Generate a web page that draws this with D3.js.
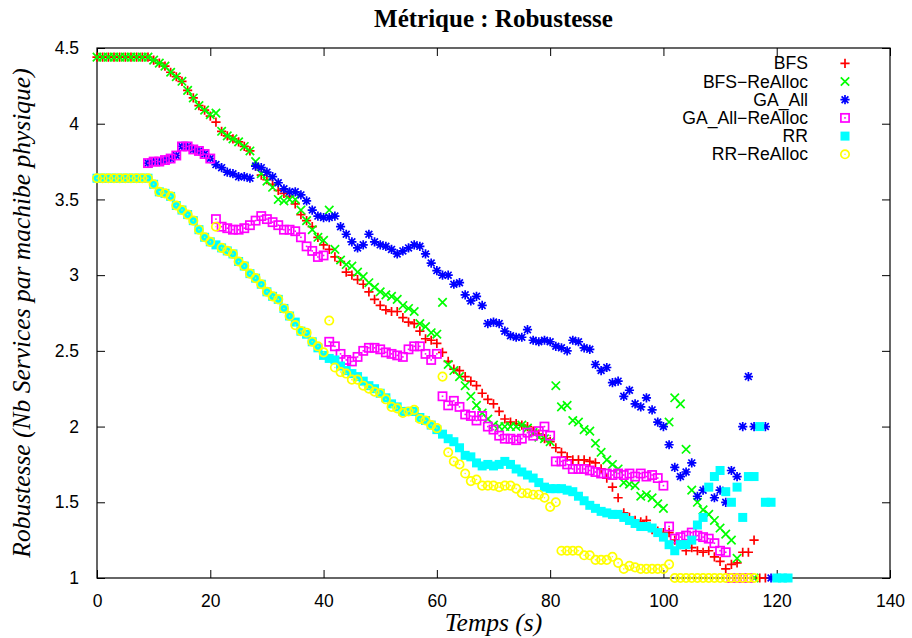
<!DOCTYPE html>
<html><head><meta charset="utf-8">
<script src="https://cdn.jsdelivr.net/npm/d3@7"></script>
<style>
html,body{margin:0;padding:0;background:#fff;}
svg{display:block;}
</style></head>
<body>
<svg id="chart" width="912" height="638"></svg>
<script>
const seriesNames = ["BFS","BFS\u2212ReAlloc","GA_All","GA_All\u2212ReAlloc","RR","RR\u2212ReAlloc"];
const xTicks = [0,20,40,60,80,100,120,140];
const yTicks = [1,1.5,2,2.5,3,3.5,4,4.5];

const bfs = [
[0,4.44],[1,4.44],[2,4.44],[3,4.44],[4,4.44],[5,4.44],[6,4.44],[7,4.44],[8,4.44],[9,4.44],
[10,4.42],[11,4.40],[12,4.38],[13,4.34],[14,4.31],[15,4.28],[16,4.22],[17,4.17],[18,4.12],[19,4.09],
[20,4.05],[21,4.01],[22,3.95],[23,3.92],[24,3.90],[25,3.88],[26,3.85],[27,3.82],[28,3.72],[29,3.66],
[30,3.63],[31,3.60],[32,3.56],[33,3.54],[34,3.52],[35,3.47],[36,3.40],[37,3.36],[38,3.32],[39,3.25],
[40,3.20],[41,3.17],[42,3.12],[43,3.09],[44,3.02],[45,3.00],[46,2.97],[47,2.94],[48,2.89],[49,2.84],
[50,2.80],[51,2.77],[52,2.76],[53,2.76],[54,2.72],[55,2.69],[56,2.68],[57,2.63],[58,2.58],[59,2.57],
[60,2.55],[61,2.49],[62,2.43],[63,2.38],[64,2.37],[65,2.33],[66,2.30],[67,2.27],[68,2.22],[69,2.18],
[70,2.15],[71,2.10],[72,2.05],[73,2.03],[74,2.02],[75,2.01],[76,2.00],[77,1.97],[78,1.95],[79,1.92],
[80,1.90],[81,1.86],[82,1.83],[83,1.80],[84,1.78],[85,1.78],[86,1.78],[87,1.77],[88,1.76],[89,1.72],
[90,1.66],[91,1.60],[92,1.53],[93,1.43],[94,1.40],[95,1.38],[96,1.37],[97,1.38],[98,1.32],[99,1.31],
[100,1.30],[101,1.30],[102,1.25],[103,1.22],[104,1.18],[105,1.20],[106,1.18],[107,1.17],[108,1.18],[109,1.14],
[110,1.11],[111,1.06],[112,1.09],[113,1.10],[114,1.17],[115,1.17],[116,1.25],[117,1.00],[118,1.00]
];

const bfsReAlloc = [
[0,4.44],[1,4.44],[2,4.44],[3,4.44],[4,4.44],[5,4.44],[6,4.44],[7,4.44],[8,4.44],[9,4.44],
[10,4.42],[11,4.40],[12,4.38],[13,4.34],[14,4.31],[15,4.28],[16,4.22],[17,4.17],[18,4.12],[19,4.09],
[20,4.06],[21,4.07],[22,3.95],[23,3.92],[24,3.90],[25,3.88],[26,3.85],[27,3.82],[28,3.75],[29,3.67],
[30,3.62],[31,3.58],[32,3.50],[33,3.49],[34,3.50],[35,3.50],[36,3.43],[37,3.36],[38,3.30],[39,3.25],
[40,3.23],[41,3.43],[42,3.17],[43,3.10],[44,3.07],[45,3.06],[46,3.02],[47,2.99],[48,2.95],[49,2.92],
[50,2.89],[51,2.87],[52,2.86],[53,2.84],[54,2.80],[55,2.78],[56,2.76],[57,2.68],[58,2.66],[59,2.62],
[60,2.61],[61,2.82],[62,2.41],[63,2.37],[64,2.33],[65,2.27],[66,2.20],[67,2.14],[68,2.09],[69,2.05],
[70,2.01],[71,2.00],[72,2.00],[73,2.00],[74,2.00],[75,2.01],[76,1.99],[77,1.96],[78,1.93],[79,1.92],
[80,1.90],[81,2.27],[82,2.13],[83,2.14],[84,2.04],[85,2.03],[86,1.98],[87,1.97],[88,1.89],[89,1.83],
[90,1.78],[91,1.75],[92,1.72],[93,1.63],[94,1.62],[95,1.61],[96,1.54],[97,1.55],[98,1.53],[99,1.49],
[100,1.46],[101,2.03],[102,2.19],[103,2.15],[104,1.85],[105,1.58],[106,1.50],[107,1.45],[108,1.42],[109,1.38],
[110,1.33],[111,1.29],[112,1.25],[113,1.13],[116,1.00]
];

const gaAll = [
[9,3.74],[10,3.75],[11,3.75],[12,3.76],[13,3.77],[14,3.79],[15,3.85],[16,3.85],[17,3.83],[18,3.82],[19,3.80],
[20,3.77],[21,3.73],[22,3.71],[23,3.68],[24,3.67],[25,3.65],[26,3.65],[27,3.64],[28,3.72],[29,3.71],
[30,3.68],[31,3.65],[32,3.61],[33,3.57],[34,3.55],[35,3.55],[36,3.53],[37,3.49],[38,3.43],[39,3.39],
[40,3.38],[41,3.38],[42,3.39],[43,3.32],[44,3.27],[45,3.22],[46,3.18],[47,3.20],[48,3.27],[49,3.22],
[50,3.20],[51,3.19],[52,3.17],[53,3.14],[54,3.16],[55,3.18],[56,3.20],[57,3.19],[58,3.14],[59,3.08],
[60,3.03],[61,3.00],[62,3.00],[63,2.94],[64,2.95],[65,2.87],[66,2.83],[67,2.86],[68,2.80],[69,2.68],
[70,2.69],[71,2.68],[72,2.63],[73,2.60],[74,2.59],[75,2.59],[76,2.64],[77,2.57],[78,2.56],[79,2.57],
[80,2.56],[81,2.53],[82,2.52],[83,2.50],[84,2.57],[85,2.56],[86,2.52],[87,2.51],[88,2.41],[89,2.37],
[90,2.39],[91,2.29],[92,2.30],[93,2.20],[94,2.24],[95,2.15],[96,2.13],[97,2.19],[98,2.11],[99,2.03],
[100,2.00],[101,1.88],[102,1.73],[103,1.67],[104,1.70],[105,1.76],[106,1.54],[107,1.58],[109,1.53],[110,1.58],
[111,1.50],[112,1.71],[113,1.67],[114,2.00],[115,2.33],[116,2.00],[118,2.00],[119,1.00]
];

const gaAllReAlloc = [
[9,3.74],[10,3.75],[11,3.75],[12,3.76],[13,3.77],[14,3.79],[15,3.85],[16,3.85],[17,3.83],[18,3.82],[19,3.80],
[20,3.77],[21,3.37],[22,3.32],[23,3.31],[24,3.30],[25,3.30],[26,3.31],[27,3.33],[28,3.36],[29,3.39],
[30,3.37],[31,3.35],[32,3.33],[33,3.30],[34,3.30],[35,3.29],[36,3.25],[37,3.19],[38,3.16],[39,3.12],
[40,3.13],[41,2.56],[42,2.53],[43,2.48],[44,2.44],[45,2.43],[46,2.46],[47,2.50],[48,2.52],[49,2.52],
[50,2.51],[51,2.49],[52,2.48],[53,2.47],[54,2.46],[55,2.51],[56,2.53],[57,2.53],[58,2.48],[59,2.44],
[60,2.48],[61,2.20],[62,2.14],[63,2.17],[64,2.13],[65,2.08],[66,2.07],[67,2.04],[68,2.07],[69,2.00],
[70,1.98],[71,1.94],[72,1.92],[73,1.92],[74,1.91],[75,1.92],[76,1.96],[77,1.94],[78,1.97],[79,2.00],
[80,1.94],[81,1.77],[82,1.77],[83,1.75],[84,1.72],[85,1.72],[86,1.72],[87,1.71],[88,1.70],[89,1.69],
[90,1.69],[91,1.68],[92,1.69],[93,1.68],[94,1.69],[95,1.67],[96,1.69],[97,1.67],[98,1.68],[99,1.66],
[100,1.61],[101,1.34],[102,1.26],[103,1.27],[104,1.28],[105,1.30],[106,1.28],[107,1.27],[108,1.26],[109,1.23],
[110,1.18],[111,1.17],[112,1.00],[113,1.00],[114,1.00],[115,1.00]
];

const rr = [
[0,3.64],[1,3.64],[2,3.64],[3,3.64],[4,3.64],[5,3.64],[6,3.64],[7,3.64],[8,3.64],[9,3.64],
[10,3.60],[11,3.55],[12,3.54],[13,3.52],[14,3.46],[15,3.43],[16,3.40],[17,3.36],[18,3.30],[19,3.25],
[20,3.22],[21,3.20],[22,3.18],[23,3.16],[24,3.14],[25,3.09],[26,3.06],[27,3.01],[28,2.98],[29,2.94],
[30,2.89],[31,2.86],[32,2.84],[33,2.78],[34,2.73],[35,2.69],[36,2.63],[37,2.61],[38,2.56],[39,2.52],
[40,2.47],[41,2.45],[42,2.44],[43,2.40],[44,2.37],[45,2.35],[46,2.33],[47,2.30],[48,2.27],[49,2.25],
[50,2.22],[51,2.19],[52,2.15],[53,2.13],[54,2.10],[55,2.10],[56,2.10],[57,2.06],[58,2.04],[59,2.01],
[60,1.98],[61,1.95],[62,1.92],[63,1.90],[64,1.86],[65,1.81],[66,1.80],[67,1.76],[68,1.74],[69,1.75],
[70,1.74],[71,1.75],[72,1.77],[73,1.75],[74,1.72],[75,1.70],[76,1.68],[77,1.66],[78,1.63],[79,1.60],
[80,1.59],[81,1.59],[82,1.59],[83,1.58],[84,1.57],[85,1.54],[86,1.51],[87,1.48],[88,1.46],[89,1.44],
[90,1.43],[91,1.42],[92,1.42],[93,1.40],[94,1.38],[95,1.36],[96,1.34],[97,1.34],[98,1.33],[99,1.30],
[100,1.27],[101,1.22],[102,1.18],[103,1.22],[104,1.22],[105,1.25],[106,1.35],[107,1.40],[108,1.60],[109,1.67],
[110,1.71],[111,1.57],[112,1.50],[113,1.60],[114,1.40],[115,1.67],[116,1.67],[117,2.00],[118,1.50],[119,1.50],
[120,1.00],[121,1.00],[122,1.00]
];

const rrReAlloc = [
[0,3.64],[1,3.64],[2,3.64],[3,3.64],[4,3.64],[5,3.64],[6,3.64],[7,3.64],[8,3.64],[9,3.64],
[10,3.60],[11,3.55],[12,3.54],[13,3.52],[14,3.46],[15,3.43],[16,3.40],[17,3.36],[18,3.30],[19,3.25],
[20,3.22],[21,3.32],[22,3.18],[23,3.16],[24,3.14],[25,3.09],[26,3.06],[27,3.01],[28,2.98],[29,2.94],
[30,2.89],[31,2.86],[32,2.84],[33,2.78],[34,2.73],[35,2.67],[36,2.63],[37,2.62],[38,2.56],[39,2.53],
[40,2.49],[41,2.70],[42,2.39],[43,2.36],[44,2.35],[45,2.31],[46,2.31],[47,2.27],[48,2.25],[49,2.23],
[50,2.22],[51,2.18],[52,2.13],[53,2.12],[54,2.09],[55,2.10],[56,2.11],[57,2.05],[58,2.04],[59,2.01],
[60,1.99],[61,2.33],[62,1.83],[63,1.77],[64,1.75],[65,1.69],[66,1.64],[67,1.65],[68,1.61],[69,1.61],
[70,1.61],[71,1.60],[72,1.61],[73,1.61],[74,1.59],[75,1.56],[76,1.56],[77,1.55],[78,1.55],[79,1.53],
[80,1.47],[81,1.50],[82,1.18],[83,1.18],[84,1.18],[85,1.18],[86,1.15],[87,1.15],[88,1.12],[89,1.12],
[90,1.12],[91,1.14],[92,1.10],[93,1.06],[94,1.08],[95,1.07],[96,1.06],[97,1.06],[98,1.06],[99,1.06],
[100,1.06],[101,1.09],[102,1.00],[103,1.00],[104,1.00],[105,1.00],[106,1.00],[107,1.00],[108,1.00],[109,1.00],
[110,1.00],[111,1.00],[112,1.00],[113,1.00],[114,1.00],[115,1.00],[116,1.00]
];

const seriesData = [bfs, bfsReAlloc, gaAll, gaAllReAlloc, rr, rrReAlloc];
const seriesColors = ["#ff0000","#00ff00","#0000ff","#ff00ff","#00ffff","#ffff00"];
const seriesShapes = ["plus","cross","star","boxdot","boxfill","circledot"];

const svg = d3.select("#chart");
const L = 97, R = 890, T = 48, B = 578;
const x = d3.scaleLinear().domain([0,140]).range([L,R]);
const y = d3.scaleLinear().domain([1,4.5]).range([B,T]);

const sans = "'Liberation Sans', Arial, Helvetica, sans-serif";
const serif = "'Liberation Serif', 'Times New Roman', Times, serif";
const serifSize = "25.5px";

// axes with inward ticks (mirrored)
const tickLen = 8;
const axB = d3.axisBottom(x).tickValues(xTicks).tickSizeInner(-tickLen).tickSizeOuter(0).tickPadding(tickLen+9).tickFormat(d3.format("d"));
const axT = d3.axisTop(x).tickValues(xTicks).tickSizeInner(-tickLen).tickSizeOuter(0).tickFormat("");
const axL = d3.axisLeft(y).tickValues(yTicks).tickSizeInner(-tickLen).tickSizeOuter(0).tickPadding(tickLen+10).tickFormat(d => Number.isInteger(d)?d3.format("d")(d):d3.format(".1f")(d));
const axR = d3.axisRight(y).tickValues(yTicks).tickSizeInner(-tickLen).tickSizeOuter(0).tickFormat("");

function styleAxis(g){
  g.select(".domain").remove();
  g.selectAll(".tick line").attr("stroke","#000").attr("stroke-width",1);
  g.selectAll(".tick text").attr("fill","#000").style("font-family",sans).style("font-size","17.5px");
}
svg.append("g").attr("transform",`translate(0,${B})`).call(axB).call(styleAxis);
svg.append("g").attr("transform",`translate(0,${T})`).call(axT).call(styleAxis);
svg.append("g").attr("transform",`translate(${L},0)`).call(axL).call(styleAxis);
svg.append("g").attr("transform",`translate(${R},0)`).call(axR).call(styleAxis);

svg.append("rect").attr("x",L).attr("y",T).attr("width",R-L).attr("height",B-T)
  .attr("fill","none").attr("stroke","#000").attr("stroke-width",1.2);

// marker drawing
function drawMarker(g, shape, color){
  const s = 4.6;
  const sw = 1.7;
  if(shape==="plus"){
    g.append("path").attr("d",`M${-s},0H${s}M0,${-s}V${s}`).attr("stroke",color).attr("stroke-width",sw).attr("fill","none");
  } else if(shape==="cross"){
    const c = 4.2;
    g.append("path").attr("d",`M${-c},${-c}L${c},${c}M${-c},${c}L${c},${-c}`).attr("stroke",color).attr("stroke-width",sw).attr("fill","none");
  } else if(shape==="star"){
    const c = 3.4;
    g.append("path").attr("d",`M${-s},0H${s}M0,${-s}V${s}M${-c},${-c}L${c},${c}M${-c},${c}L${c},${-c}`).attr("stroke",color).attr("stroke-width",sw).attr("fill","none");
  } else if(shape==="boxdot"){
    g.append("rect").attr("x",-4.1).attr("y",-4.1).attr("width",8.2).attr("height",8.2).attr("stroke",color).attr("stroke-width",sw).attr("fill","none");
    g.append("rect").attr("x",-0.8).attr("y",-0.8).attr("width",1.6).attr("height",1.6).attr("fill",color);
  } else if(shape==="boxfill"){
    g.append("rect").attr("x",-4.5).attr("y",-4.5).attr("width",9).attr("height",9).attr("fill",color);
  } else if(shape==="circledot"){
    g.append("circle").attr("r",4.2).attr("stroke",color).attr("stroke-width",sw).attr("fill","none");
    g.append("circle").attr("r",0.8).attr("fill",color);
  }
}

seriesData.forEach((data,i)=>{
  const g = svg.append("g");
  data.forEach(d=>{
    const m = g.append("g").attr("transform",`translate(${x(d[0])},${y(d[1])})`);
    drawMarker(m, seriesShapes[i], seriesColors[i]);
  });
});

// legend
const legX = 808, legSym = 845, legY0 = 63.3, legDy = 18.2;
seriesNames.forEach((n,i)=>{
  const yy = legY0 + i*legDy;
  svg.append("text").attr("x",legX).attr("y",yy).attr("dy","0.35em").attr("text-anchor","end")
    .style("font-family",sans).style("font-size","17.6px").attr("fill","#000").text(n);
  const m = svg.append("g").attr("transform",`translate(${legSym},${yy})`);
  drawMarker(m, seriesShapes[i], seriesColors[i]);
});

// titles
svg.append("text").attr("x",(L+R)/2).attr("y",27).attr("text-anchor","middle")
  .style("font-family",serif).style("font-weight","bold").style("font-size","25px").text("Métrique : Robustesse");
svg.append("text").attr("x",(L+R)/2).attr("y",631).attr("text-anchor","middle")
  .style("font-family",serif).style("font-style","italic").style("font-size",serifSize).text("Temps (s)");
svg.append("text").attr("transform",`translate(30,${(T+B)/2}) rotate(-90)`).attr("text-anchor","middle")
  .style("font-family",serif).style("font-style","italic").style("font-size",serifSize).text("Robustesse (Nb Services par machibe physique)");
</script>
</body></html>
